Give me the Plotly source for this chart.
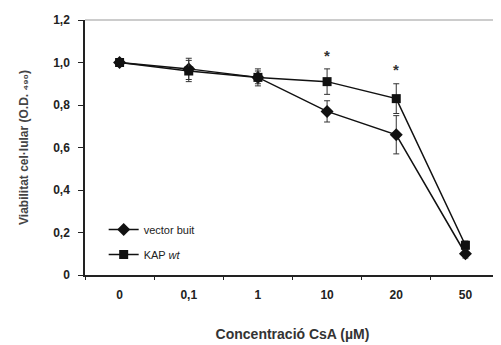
import plotly.graph_objects as go

categories = ["0", "0,1", "1", "10", "20", "50"]
vector_buit = [1.00, 0.97, 0.93, 0.77, 0.66, 0.10]
vector_err = [0.01, 0.05, 0.03, 0.05, 0.09, 0.02]
kap_wt = [1.00, 0.96, 0.93, 0.91, 0.83, 0.14]
kap_err = [0.01, 0.05, 0.04, 0.06, 0.07, 0.02]
star_cats = ["10", "20"]
star_y = [1.035, 0.965]
y_ticks = [0, 0.2, 0.4, 0.6, 0.8, 1.0, 1.2]
y_labels = ["0", "0,2", "0,4", "0,6", "0,8", "1,0", "1,2"]

fig = go.Figure()
fig.add_trace(go.Scatter(
    x=categories, y=vector_buit, name="vector buit", mode="lines+markers",
    legendgroup="a",
    line=dict(color="#111", width=1.5),
    marker=dict(symbol="diamond", size=10, color="#111"),
    error_y=dict(type="data", array=vector_err, color="#333", thickness=1, width=3),
))
fig.add_trace(go.Scatter(
    x=categories, y=kap_wt, name="KAP <i>wt</i>", mode="lines+markers",
    legendgroup="b",
    line=dict(color="#111", width=1.5),
    marker=dict(symbol="square", size=9, color="#111"),
    error_y=dict(type="data", array=kap_err, color="#333", thickness=1, width=3),
))
for c, y in zip(star_cats, star_y):
    fig.add_annotation(x=categories.index(c), y=y, text="<b>*</b>", showarrow=False,
                       font=dict(size=15, color="#333"))

fig.update_layout(
    width=493, height=337,
    margin=dict(l=77, r=1, t=12, b=70),
    paper_bgcolor="white", plot_bgcolor="white",
    font=dict(family="Arial", size=11, color="#222"),
    showlegend=True,
    legend=dict(x=0.045, y=0.235, xanchor="left", yanchor="top",
                bgcolor="rgba(0,0,0,0)", font=dict(size=11),
                tracegroupgap=6),
    xaxis=dict(
        type="category", range=[-0.5, 5.5], showline=True, linecolor="#222",
        linewidth=1.5, showgrid=False,
        ticks="outside", ticklen=3, tickcolor="#222", tickson="boundaries",
        ticklabelstandoff=8,
        tickfont=dict(size=12),
        tickvals=categories, ticktext=["<b>%s</b>" % c for c in categories],
        title=dict(text="<b>Concentració CsA (µM)</b>", font=dict(size=14, color="#333"), standoff=28),
    ),
    yaxis=dict(
        range=[0, 1.2], showline=True, linecolor="#222", linewidth=1.5,
        ticks="outside", ticklen=5, tickcolor="#222", showgrid=False,
        ticklabelstandoff=6,
        tickvals=y_ticks, ticktext=["<b>%s</b>" % t for t in y_labels],
        tickfont=dict(size=12), zeroline=False,
        title=dict(text="<b>Viabilitat cel·lular (O.D. ₄₉₀)</b>", font=dict(size=12, color="#444"), standoff=22),
    ),
)
# top and right frame
fig.add_shape(type="line", xref="paper", yref="paper", x0=0, x1=1, y0=1, y1=1,
              line=dict(color="#999", width=1))
fig.add_shape(type="line", xref="paper", yref="paper", x0=1, x1=1, y0=0, y1=1,
              line=dict(color="#999", width=1))
fig.write_html("out.html")
